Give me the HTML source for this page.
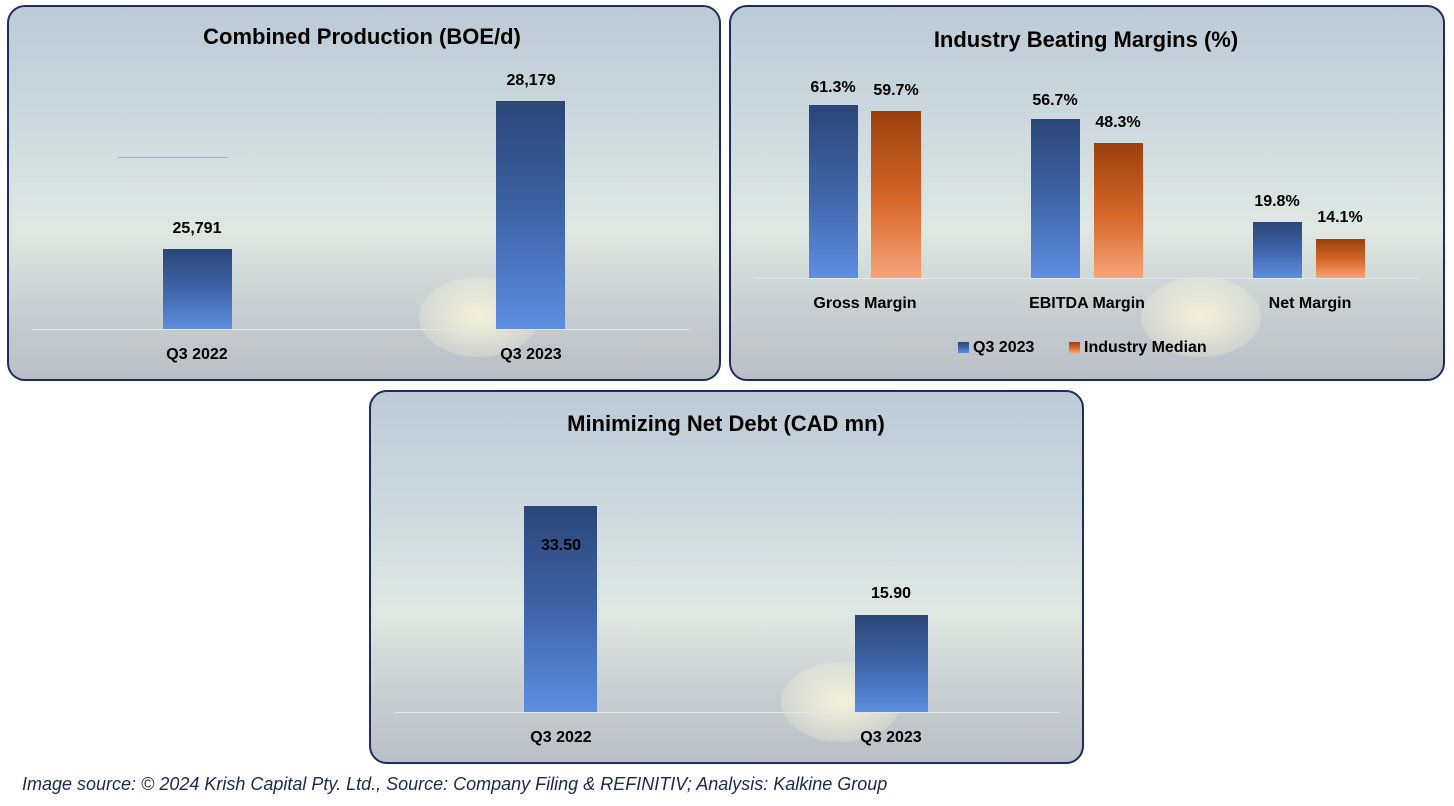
<!DOCTYPE html>
<html><head><meta charset="utf-8"><style>
body{margin:0;width:1454px;height:806px;background:#fff;position:relative;overflow:hidden;font-family:"Liberation Sans",sans-serif}
.p{position:absolute;border:2px solid #1f2d5c;border-radius:18px;box-sizing:border-box;overflow:hidden;
background:linear-gradient(180deg,#bccad6 0%,#cfdbe0 35%,#dfe8e2 60%,#c9d0d2 80%,#b9bfc6 100%)}
.a{position:absolute;color:#000;font-weight:bold}
.t{font-size:22px;transform:translateX(-50%);white-space:nowrap}
.l{font-size:16px;transform:translateX(-50%);white-space:nowrap}
.b{position:absolute;background:linear-gradient(180deg,#2b4678 0%,#3e64a8 50%,#5e8ee0 100%)}
.o{position:absolute;background:linear-gradient(180deg,#9a400c 0%,#d8682a 55%,#f6a47a 100%)}
.ax{position:absolute;height:1px;background:#e4e8ec}
.sun{position:absolute;width:120px;height:80px;border-radius:50%;background:radial-gradient(ellipse,rgba(255,250,220,0.8),rgba(255,250,220,0))}
</style></head><body>
<div class="p" style="left:7px;top:5px;width:714px;height:376px"><div class="sun" style="left:410px;top:270px"></div></div>
<div class="p" style="left:729px;top:5px;width:716px;height:376px"><div class="sun" style="left:410px;top:270px"></div></div>
<div class="p" style="left:369px;top:390px;width:715px;height:374px"><div class="sun" style="left:410px;top:270px"></div></div>

<div class="a t" style="left:362px;top:24px">Combined Production (BOE/d)</div>
<div class="ax" style="left:32px;top:329px;width:658px"></div>
<div class="b" style="left:163px;top:249px;width:69px;height:80px"></div>
<div class="b" style="left:496px;top:101px;width:69px;height:228px"></div>
<div class="a l" style="left:197px;top:220px">25,791</div>
<div class="a l" style="left:531px;top:72px">28,179</div>
<div class="a l" style="left:197px;top:346px">Q3 2022</div>
<div class="a l" style="left:531px;top:346px">Q3 2023</div>
<div style="position:absolute;left:118px;top:157px;width:110px;height:1px;background:#9ab4c8"></div>

<div class="a t" style="left:1086px;top:27px">Industry Beating Margins (%)</div>
<div class="ax" style="left:755px;top:278px;width:665px"></div>
<div class="b" style="left:809px;top:105px;width:49px;height:173px"></div>
<div class="o" style="left:871px;top:111px;width:50px;height:167px"></div>
<div class="b" style="left:1031px;top:119px;width:49px;height:159px"></div>
<div class="o" style="left:1094px;top:143px;width:49px;height:135px"></div>
<div class="b" style="left:1253px;top:222px;width:49px;height:56px"></div>
<div class="o" style="left:1316px;top:239px;width:49px;height:39px"></div>
<div class="a l" style="left:833px;top:79px">61.3%</div>
<div class="a l" style="left:896px;top:82px">59.7%</div>
<div class="a l" style="left:1055px;top:92px">56.7%</div>
<div class="a l" style="left:1118px;top:114px">48.3%</div>
<div class="a l" style="left:1277px;top:193px">19.8%</div>
<div class="a l" style="left:1340px;top:209px">14.1%</div>
<div class="a l" style="left:865px;top:295px">Gross Margin</div>
<div class="a l" style="left:1087px;top:295px">EBITDA Margin</div>
<div class="a l" style="left:1310px;top:295px">Net Margin</div>
<div class="b" style="left:958px;top:342px;width:11px;height:11px"></div>
<div class="a" style="left:973px;top:339px;font-size:16px">Q3 2023</div>
<div class="o" style="left:1069px;top:342px;width:11px;height:11px"></div>
<div class="a" style="left:1084px;top:339px;font-size:16px">Industry Median</div>

<div class="a t" style="left:726px;top:411px">Minimizing Net Debt (CAD mn)</div>
<div class="ax" style="left:395px;top:712px;width:665px"></div>
<div class="b" style="left:524px;top:506px;width:73px;height:206px"></div>
<div class="b" style="left:855px;top:615px;width:73px;height:97px"></div>
<div class="a l" style="left:561px;top:537px">33.50</div>
<div class="a l" style="left:891px;top:585px">15.90</div>
<div class="a l" style="left:561px;top:729px">Q3 2022</div>
<div class="a l" style="left:891px;top:729px">Q3 2023</div>

<div style="position:absolute;left:22px;top:774px;font-size:18px;font-style:italic;color:#1a2a4a;white-space:nowrap">Image source: © 2024 Krish Capital Pty. Ltd., Source: Company Filing &amp; REFINITIV; Analysis: Kalkine Group</div>
</body></html>
